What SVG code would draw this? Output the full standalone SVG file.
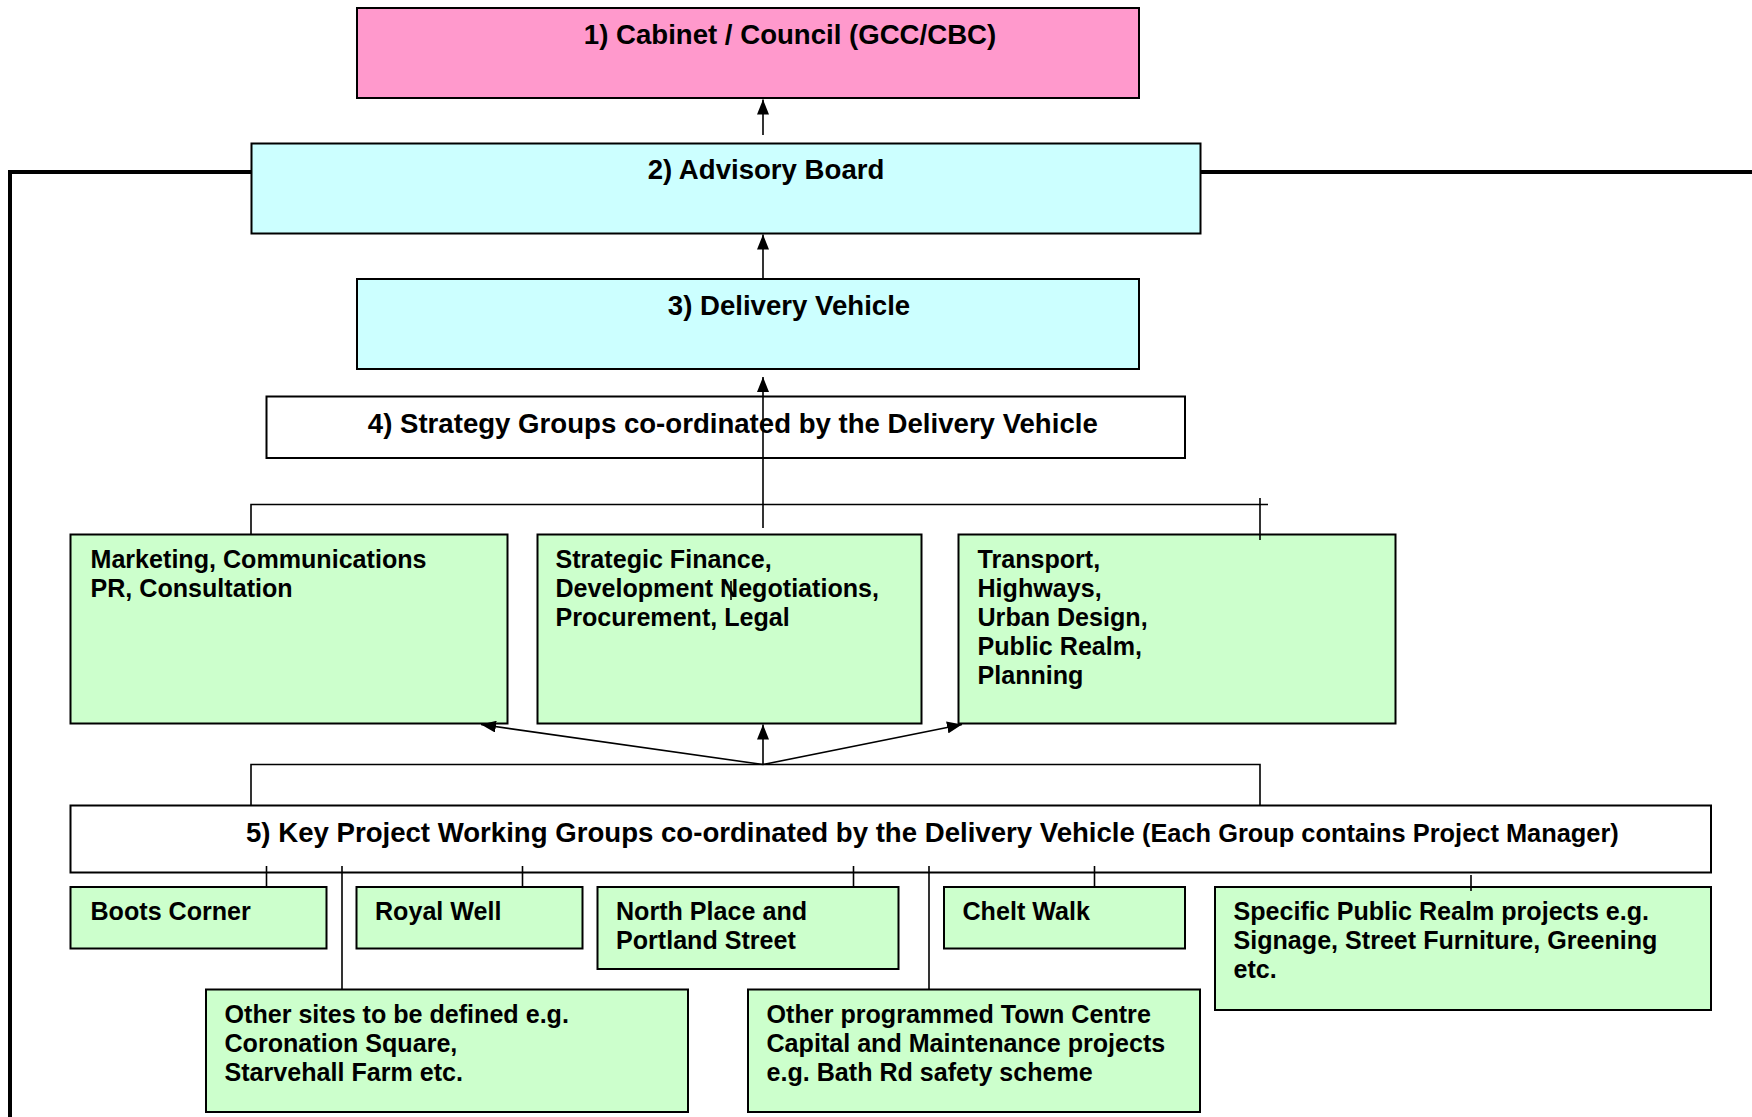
<svg xmlns="http://www.w3.org/2000/svg" width="1752" height="1117" viewBox="0 0 1752 1117">
<style>
.box{stroke:#000;stroke-width:2}
.pink{fill:#FF99CC}
.cyan{fill:#CCFFFF}
.green{fill:#CCFFCC}
.white{fill:#FFFFFF}
text{font-family:"Liberation Sans",Arial,sans-serif;font-weight:bold;fill:#000}
.t{font-size:27.6px;text-anchor:middle}
.b{font-size:25.1px}
.c{fill:none;stroke:#000;stroke-width:1.6}
.thick{fill:none;stroke:#000;stroke-width:4}
</style>
<defs>
<marker id="ah" markerUnits="userSpaceOnUse" markerWidth="16" markerHeight="12" refX="15" refY="6" orient="auto">
<path d="M0,0 L15,6 L0,12 z" fill="#000"/>
</marker>
</defs>
<rect width="1752" height="1117" fill="#fff"/>

<g id="n1"><rect class="box pink" x="357" y="8" width="782" height="90"/>
<text class="t" x="790" y="43.5">1) Cabinet / Council (GCC/CBC)</text></g>

<g id="n2"><rect class="box cyan" x="251.5" y="143.5" width="949" height="90"/>
<text class="t" x="766" y="179">2) Advisory Board</text></g>

<g id="n3"><rect class="box cyan" x="357" y="279" width="782" height="90"/>
<text class="t" x="789" y="314.5">3) Delivery Vehicle</text></g>

<g id="n4"><rect class="box white" x="266.5" y="396.5" width="918.5" height="61.5"/>
<text class="t" x="732.8" y="432.5">4) Strategy Groups co-ordinated by the Delivery Vehicle</text></g>

<g id="g1"><rect class="box green" x="70.5" y="534.5" width="437" height="189"/>
<text class="b" x="90.5" y="567.5">Marketing, Communications<tspan x="90.5" dy="29">PR, Consultation</tspan></text></g>

<g id="g2"><rect class="box green" x="537.5" y="534.5" width="384" height="189"/>
<text class="b" x="555.5" y="567.5">Strategic Finance,<tspan x="555.5" dy="29">Development Negotiations,</tspan><tspan x="555.5" dy="29">Procurement, Legal</tspan></text></g>

<g id="g3"><rect class="box green" x="958.5" y="534.5" width="437" height="189"/>
<text class="b" x="977.5" y="567.5">Transport,<tspan x="977.5" dy="29">Highways,</tspan><tspan x="977.5" dy="29">Urban Design,</tspan><tspan x="977.5" dy="29">Public Realm,</tspan><tspan x="977.5" dy="29">Planning</tspan></text></g>

<g id="n5"><rect class="box white" x="70.5" y="805.5" width="1640.5" height="67"/>
<text x="246" y="841.5"><tspan style="font-size:27.6px">5) Key Project Working Groups co-ordinated by the Delivery Vehicle</tspan><tspan style="font-size:25.4px"> (Each Group contains Project Manager)</tspan></text></g>

<g id="boots"><rect class="box green" x="70.5" y="887" width="256" height="61.5"/>
<text class="b" x="90.5" y="919.5">Boots Corner</text></g>

<g id="royal"><rect class="box green" x="356.5" y="887" width="226" height="61.5"/>
<text class="b" x="375" y="919.5">Royal Well</text></g>

<g id="north"><rect class="box green" x="597.5" y="887" width="301" height="82"/>
<text class="b" x="616" y="919.5">North Place and<tspan x="616" dy="29">Portland Street</tspan></text></g>

<g id="chelt"><rect class="box green" x="944" y="887" width="241" height="61.5"/>
<text class="b" x="962.5" y="919.5">Chelt Walk</text></g>

<g id="spr"><rect class="box green" x="1215" y="887" width="496" height="123"/>
<text class="b" x="1233.5" y="919.5">Specific Public Realm projects e.g.<tspan x="1233.5" dy="29">Signage, Street Furniture, Greening</tspan><tspan x="1233.5" dy="29">etc.</tspan></text></g>

<g id="sites"><rect class="box green" x="206" y="989.5" width="482" height="122.5"/>
<text class="b" x="224.5" y="1022.8">Other sites to be defined e.g.<tspan x="224.5" dy="29">Coronation Square,</tspan><tspan x="224.5" dy="29">Starvehall Farm etc.</tspan></text></g>

<g id="prog"><rect class="box green" x="748" y="989.5" width="452" height="122.5"/>
<text class="b" x="766.5" y="1022.8">Other programmed Town Centre<tspan x="766.5" dy="29">Capital and Maintenance projects</tspan><tspan x="766.5" dy="29">e.g. Bath Rd safety scheme</tspan></text></g>

<g id="connectors">
<polyline class="thick" points="10,1117 10,172 251,172"/>
<line class="thick" x1="1201" y1="172" x2="1752" y2="172"/>
<line class="c" x1="763" y1="135" x2="763" y2="99.5" marker-end="url(#ah)"/>
<line class="c" x1="763" y1="279" x2="763" y2="234.5" marker-end="url(#ah)"/>
<line class="c" x1="763" y1="528" x2="763" y2="377" marker-end="url(#ah)"/>
<polyline class="c" points="251,534 251,504.5 1268,504.5"/>
<line class="c" x1="1260" y1="498" x2="1260" y2="540"/>
<line class="c" x1="731" y1="581" x2="731" y2="600"/>
<polyline class="c" points="251,805 251,764.5 1260,764.5 1260,805"/>
<line class="c" x1="763" y1="764.5" x2="481" y2="724.5" marker-end="url(#ah)"/>
<line class="c" x1="763" y1="764.5" x2="763" y2="724.5" marker-end="url(#ah)"/>
<line class="c" x1="763" y1="764.5" x2="962" y2="724.5" marker-end="url(#ah)"/>
<line class="c" x1="266.5" y1="866" x2="266.5" y2="887"/>
<line class="c" x1="522.5" y1="866" x2="522.5" y2="887"/>
<line class="c" x1="853.5" y1="866" x2="853.5" y2="887"/>
<line class="c" x1="1094.5" y1="866" x2="1094.5" y2="887"/>
<line class="c" x1="342" y1="866" x2="342" y2="989.5"/>
<line class="c" x1="929" y1="866" x2="929" y2="989.5"/>
<line class="c" x1="1471" y1="875" x2="1471" y2="891"/>
</g>
</svg>
